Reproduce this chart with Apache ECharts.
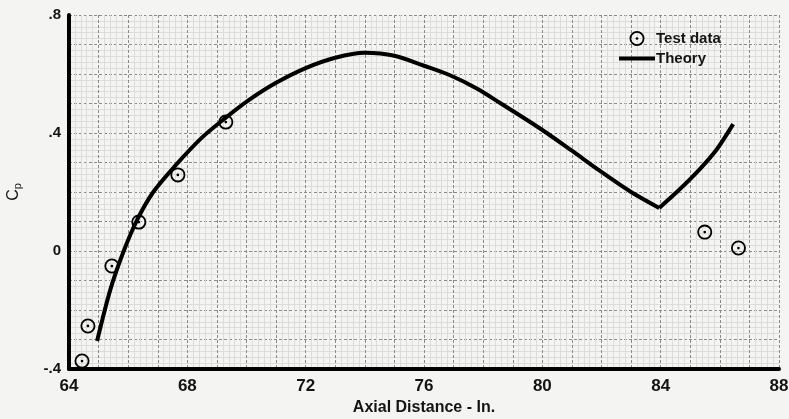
<!DOCTYPE html>
<html>
<head>
<meta charset="utf-8">
<script src="https://cdn.jsdelivr.net/npm/echarts@6/dist/echarts.min.js"></script>
<style>
  html, body { margin: 0; padding: 0; background: #f4f4f2; }
  #chart { width: 789px; height: 419px; }
</style>
</head>
<body>
<div id="chart"></div>
<script>
// test data points (axial distance, Cp)
const testX = [64.44, 64.64, 65.45, 66.36, 67.68, 69.3, 85.49, 86.63]
const testY = [-0.373, -0.254, -0.051, 0.098, 0.258, 0.437, 0.064, 0.01]

// theory curve, split at the kink near 84 in
const theoryX1 = [64.95, 65.4, 65.85, 66.3, 66.85, 67.6, 68.5, 69.3, 70.1, 71, 72, 73, 74, 75, 76, 76.9, 77.8, 78.6, 79.9, 81, 81.9, 83.0, 83.95]
const theoryY1 = [-0.305, -0.13, 0.0, 0.105, 0.2, 0.29, 0.385, 0.452, 0.513, 0.57, 0.62, 0.655, 0.672, 0.662, 0.628, 0.595, 0.55, 0.50, 0.417, 0.34, 0.275, 0.20, 0.146]
const theoryX2 = [83.95, 84.6, 85.3, 85.9, 86.45]
const theoryY2 = [0.146, 0.205, 0.275, 0.345, 0.43]

const xTicks = [64, 68, 72, 76, 80, 84, 88]
const yTicks = { '0.8': '.8', '0.4': '.4', '0': '0', '-0.4': '-.4' }

const pair = (xs, ys) => xs.map((x, i) => [x, ys[i]])

// ring with a centre dot
const ringDot = 'path://M0,-10A10,10 0 1,1 0,10A10,10 0 1,1 0,-10Z' +
  'M0,-7.6A7.6,7.6 0 1,0 0,7.6A7.6,7.6 0 1,0 0,-7.6Z' +
  'M0,-1.8A1.8,1.8 0 1,1 0,1.8A1.8,1.8 0 1,1 0,-1.8Z'
const bar = 'path://M0,0H36V4H0Z'

const chart = echarts.init(document.getElementById('chart'))
const font = 'Liberation Sans'
const ink = '#141414'

chart.setOption({
  backgroundColor: '#f4f4f2',
  animation: false,
  textStyle: { fontFamily: font, color: ink },
  grid: { left: 69, right: 10, top: 15, bottom: 50, outerBoundsMode: 'none', containLabel: false },
  legend: {
    orient: 'vertical',
    left: 614,
    top: 26,
    itemGap: 5,
    itemWidth: 36,
    itemHeight: 15,
    symbolKeepAspect: true,
    textStyle: { fontFamily: font, fontSize: 15, fontWeight: 'bold', color: ink, padding: [0, 0, 0, -4] },
    data: [
      { name: 'Test data', icon: ringDot },
      { name: 'Theory', icon: bar }
    ]
  },
  xAxis: {
    type: 'value',
    min: 64,
    max: 88,
    interval: 1,
    name: 'Axial Distance - In.',
    nameLocation: 'middle',
    nameGap: 27,
    nameTextStyle: { fontFamily: font, fontSize: 16, fontWeight: 'bold', color: ink },
    axisLine: { show: true, onZero: false, lineStyle: { color: '#000', width: 4 } },
    axisTick: { show: false },
    axisLabel: {
      margin: 9,
      fontSize: 17,
      fontWeight: 'bold',
      color: ink,
      formatter: v => (xTicks.indexOf(v) >= 0 ? String(v) : '')
    },
    splitLine: { show: true, lineStyle: { color: '#8a8a8a', width: 1, type: [3, 2] } },
    minorTick: { show: false, splitNumber: 5 },
    minorSplitLine: { show: true, lineStyle: { color: '#dcdcda', width: 1 } }
  },
  yAxis: {
    type: 'value',
    min: -0.4,
    max: 0.8,
    interval: 0.1,
    name: '{c|C}{p|p}',
    nameLocation: 'middle',
    nameRotate: 90,
    nameGap: 46,
    nameTextStyle: {
      rich: {
        c: { fontFamily: font, fontSize: 16, color: ink },
        p: { fontFamily: font, fontSize: 11, color: ink, padding: [8, 0, 0, 0] }
      }
    },
    axisLine: { show: true, onZero: false, lineStyle: { color: '#000', width: 4 } },
    axisTick: { show: false },
    axisLabel: {
      margin: 8,
      fontSize: 15,
      fontWeight: 'bold',
      color: ink,
      padding: [5, 0, 0, 0],
      formatter: v => {
        const k = String(Math.round(v * 10) / 10)
        return yTicks[k] !== undefined ? yTicks[k] : ''
      }
    },
    splitLine: { show: true, lineStyle: { color: '#8a8a8a', width: 1, type: [3, 2] } },
    minorTick: { show: false, splitNumber: 5 },
    minorSplitLine: { show: true, lineStyle: { color: '#dcdcda', width: 1 } }
  },
  series: [
    {
      name: 'Theory',
      type: 'line',
      data: pair(theoryX1, theoryY1),
      smooth: 0.3,
      showSymbol: false,
      symbol: 'none',
      lineStyle: { color: '#000', width: 4 },
      itemStyle: { color: '#000' },
      z: 3
    },
    {
      name: 'Theory',
      type: 'line',
      data: pair(theoryX2, theoryY2),
      smooth: 0.3,
      showSymbol: false,
      symbol: 'none',
      lineStyle: { color: '#000', width: 4 },
      itemStyle: { color: '#000' },
      z: 3
    },
    {
      name: 'Test data',
      type: 'scatter',
      data: pair(testX, testY),
      symbol: ringDot,
      symbolSize: 15,
      itemStyle: { color: '#000', opacity: 1 },
      z: 4
    }
  ]
})
</script>
</body>
</html>
